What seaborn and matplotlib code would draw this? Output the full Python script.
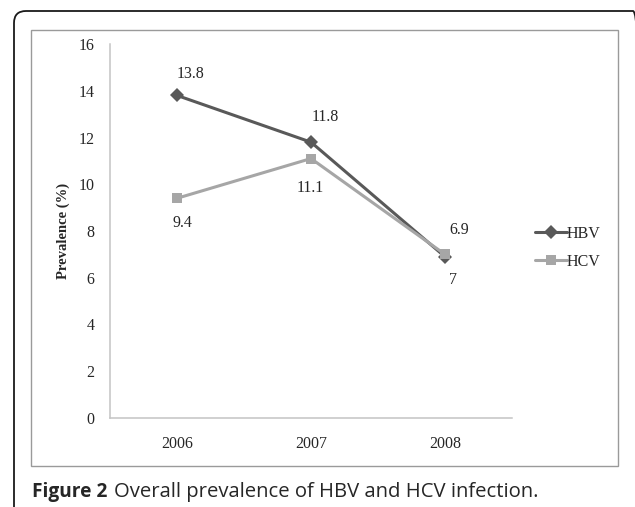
import matplotlib
matplotlib.use("Agg")
import matplotlib.pyplot as plt
import seaborn as sns
import pandas as pd
from matplotlib.patches import FancyBboxPatch, Rectangle

years = ["2006", "2007", "2008"]
hbv = [13.8, 11.8, 6.9]
hcv = [9.4, 11.1, 7.0]
hbv_labels = ["13.8", "11.8", "6.9"]
hcv_labels = ["9.4", "11.1", "7"]
y_ticks = [0, 2, 4, 6, 8, 10, 12, 14, 16]

df = pd.DataFrame({
    "x": list(range(len(years))) * 2,
    "value": hbv + hcv,
    "series": ["HBV"] * len(years) + ["HCV"] * len(years),
})

sns.set_style("white")
plt.rcParams["font.family"] = ["Liberation Serif", "DejaVu Serif"]

W, H = 635, 507
fig = plt.figure(figsize=(W / 100, H / 100), dpi=100)

def px(x, y):
    # pixel (from top-left) -> inches for dpi_scale_trans
    return x / 100, (H - y) / 100

# outer rounded frame (right/bottom run off the image)
x0, y0 = px(14, 560)
x1, y1 = px(645, 11)
outer = FancyBboxPatch((x0, y0), x1 - x0, y1 - y0,
                       boxstyle="round,pad=0,rounding_size=0.12",
                       transform=fig.dpi_scale_trans, fill=False,
                       edgecolor="#1a1a1a", lw=1.3, clip_on=False)
fig.patches.append(outer)
ix0, iy0 = px(31, 466)
ix1, iy1 = px(618, 30)
inner = Rectangle((ix0, iy0), ix1 - ix0, iy1 - iy0,
                  transform=fig.dpi_scale_trans, fill=False,
                  edgecolor="#9a9a9a", lw=1.0)
fig.patches.append(inner)

ax = fig.add_axes([110 / W, 1 - 418 / H, (512 - 110) / W, (418 - 44) / H])
ax.patch.set_alpha(0)
colors = {"HBV": "#595959", "HCV": "#a6a6a6"}
sns.lineplot(data=df, x="x", y="value", hue="series", style="series",
             markers={"HBV": "D", "HCV": "s"}, dashes=False, palette=colors,
             ax=ax, lw=2.2, markersize=7.5, markeredgewidth=0)

ax.set_xlim(-0.5, 2.5)
ax.set_ylim(0, 16)
ax.set_yticks(y_ticks)
ax.set_yticklabels([str(t) for t in y_ticks], fontsize=11.5)
ax.set_xticks(range(len(years)))
ax.set_xticklabels(years, fontsize=11.5)
ax.tick_params(axis="y", length=0, pad=11)
ax.tick_params(axis="x", length=0, pad=13)
for s in ["top", "right"]:
    ax.spines[s].set_visible(False)
for s in ["left", "bottom"]:
    ax.spines[s].set_color("#c4c4c4")
    ax.spines[s].set_linewidth(1.1)
ax.set_xlabel("")
ax.set_ylabel("Prevalence (%)", fontsize=10.5, fontweight="bold", labelpad=6)

# data labels (offsets in pixels from the point)
hbv_off = [(14, 21), (14, 25), (14, 27)]
hcv_off = [(5, -25), (-1, -29), (8, -26)]
for i, (v, t) in enumerate(zip(hbv, hbv_labels)):
    ax.annotate(t, (i, v), xytext=hbv_off[i], textcoords="offset pixels",
                ha="center", va="center", fontsize=11.5)
for i, (v, t) in enumerate(zip(hcv, hcv_labels)):
    ax.annotate(t, (i, v), xytext=hcv_off[i], textcoords="offset pixels",
                ha="center", va="center", fontsize=11.5)

ax.legend(loc="center left", bbox_to_anchor=(535 / W, 1 - 248 / H),
          bbox_transform=fig.transFigure, frameon=False, fontsize=11.5,
          handlelength=2.0, handletextpad=0.0, labelspacing=0.75,
          borderaxespad=0, borderpad=0)

cap_font = ["Open Sans", "DejaVu Sans"]
t1 = fig.text(32 / W, 1 - 492 / H, "Figure 2", fontsize=13.8, fontweight="bold",
              family=cap_font, va="center", ha="left")
fig.canvas.draw()
bb = t1.get_window_extent()
fig.text((bb.x1 + 7) / W, 1 - 492 / H, "Overall prevalence of HBV and HCV infection.",
         fontsize=14.6, family=cap_font, va="center", ha="left")

fig.savefig("out.png", dpi=100)
